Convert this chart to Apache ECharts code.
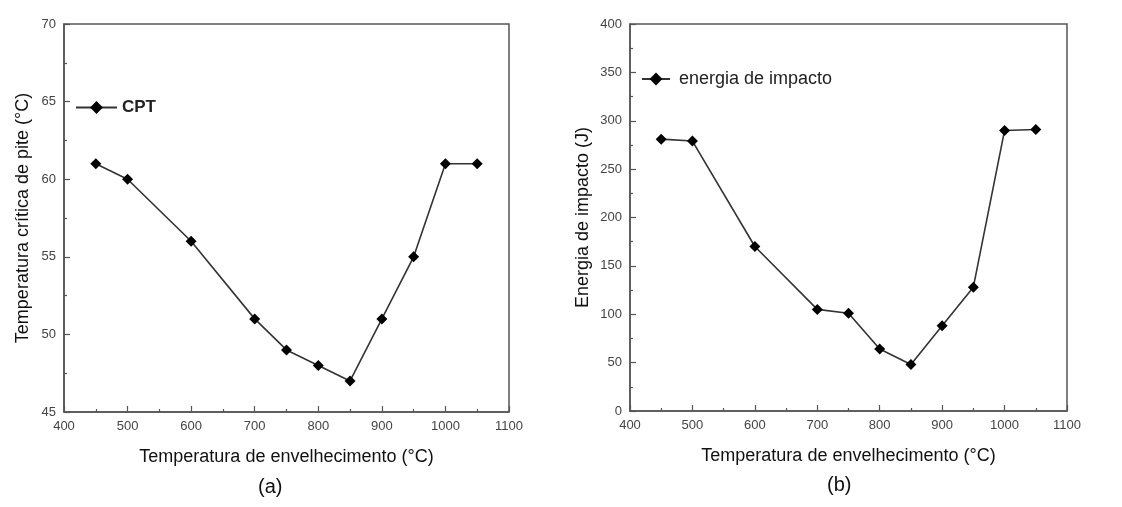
<!DOCTYPE html>
<html>
<head>
    <meta charset="utf-8">
    <style>
        html, body { margin: 0; padding: 0; background: #fff; }
        #chart { width: 1122px; height: 507px; }
    </style>
    <script src="https://cdn.jsdelivr.net/npm/echarts@6/dist/echarts.min.js"></script>
</head>
<body>
    <div id="chart"></div>
    <script type="text/javascript">
        // temperaturas de envelhecimento (°C)
        var temps = [450, 500, 600, 700, 750, 800, 850, 900, 950, 1000, 1050];
        // (a) temperatura crítica de pite
        var cpt = [61, 60, 56, 51, 49, 48, 47, 51, 55, 61, 61];
        // (b) energia de impacto
        var energia = [281, 279, 170, 105, 101, 64, 48, 88, 128, 290, 291];

        function pares(xs, ys) {
            return xs.map(function (x, i) { return [x, ys[i]]; });
        }

        var font = 'Liberation Sans, Arial, sans-serif';
        var axisColor = '#555';

        function eixoX(grid) {
            return {
                type: 'value', gridIndex: grid, min: 400, max: 1100, interval: 100,
                name: 'Temperatura de envelhecimento (°C)', nameLocation: 'middle', nameGap: 36,
                nameTextStyle: { fontFamily: font, fontSize: 18, color: '#111' },
                axisLine: { lineStyle: { color: axisColor, width: 1.5 } },
                axisTick: { inside: true, length: 6, lineStyle: { color: axisColor, width: 1.2 } },
                minorTick: { show: true, splitNumber: 2, length: 3, lineStyle: { color: axisColor, width: 1.2 } },
                axisLabel: { fontFamily: font, fontSize: 13, color: '#444', margin: 8,
                    formatter: function (v) { return String(v); } },
                splitLine: { show: false }
            };
        }

        function eixoY(grid, min, max, step, nome, gap) {
            return {
                type: 'value', gridIndex: grid, min: min, max: max, interval: step,
                name: nome, nameLocation: 'middle', nameGap: gap,
                nameTextStyle: { fontFamily: font, fontSize: 18, color: '#111' },
                axisLine: { show: true, lineStyle: { color: axisColor, width: 1.5 } },
                axisTick: { inside: true, length: 6, lineStyle: { color: axisColor, width: 1.2 } },
                minorTick: { show: true, splitNumber: 2, length: 3, lineStyle: { color: axisColor, width: 1.2 } },
                axisLabel: { fontFamily: font, fontSize: 13, color: '#444', margin: 8 },
                splitLine: { show: false }
            };
        }

        function serie(nome, grid, dados) {
            return {
                name: nome, type: 'line', xAxisIndex: grid, yAxisIndex: grid,
                data: dados, symbol: 'diamond', symbolSize: 11,
                itemStyle: { color: '#000' },
                lineStyle: { color: '#333', width: 1.6 }
            };
        }

        var myChart = echarts.init(document.getElementById('chart'));
        myChart.setOption({
            animation: false,
            backgroundColor: '#fff',
            grid: [
                { left: 64, top: 24, width: 445, height: 388, show: true, borderColor: axisColor, borderWidth: 1.5 },
                { left: 630, top: 24, width: 437, height: 387, show: true, borderColor: axisColor, borderWidth: 1.5 }
            ],
            xAxis: [eixoX(0), eixoX(1)],
            yAxis: [
                eixoY(0, 45, 70, 5, 'Temperatura crítica de pite (°C)', 32),
                eixoY(1, 0, 400, 50, 'Energia de impacto (J)', 38)
            ],
            legend: [
                {
                    data: ['CPT'], left: 70, top: 94, itemWidth: 41, itemHeight: 16, itemGap: 0,
                    textStyle: { fontFamily: font, fontSize: 17, fontWeight: 'bold', color: '#222' }
                },
                {
                    data: ['energia de impacto'], left: 636, top: 65, itemWidth: 28, itemHeight: 16,
                    textStyle: { fontFamily: font, fontSize: 18, color: '#222', padding: [0, 0, 0, 4] }
                }
            ],
            series: [
                serie('CPT', 0, pares(temps, cpt)),
                serie('energia de impacto', 1, pares(temps, energia))
            ],
            graphic: [
                { type: 'text', left: 258, top: 477, style: { text: '(a)', font: '20px ' + font, fill: '#111' } },
                { type: 'text', left: 827, top: 475, style: { text: '(b)', font: '20px ' + font, fill: '#111' } }
            ]
        });
    </script>
</body>
</html>
